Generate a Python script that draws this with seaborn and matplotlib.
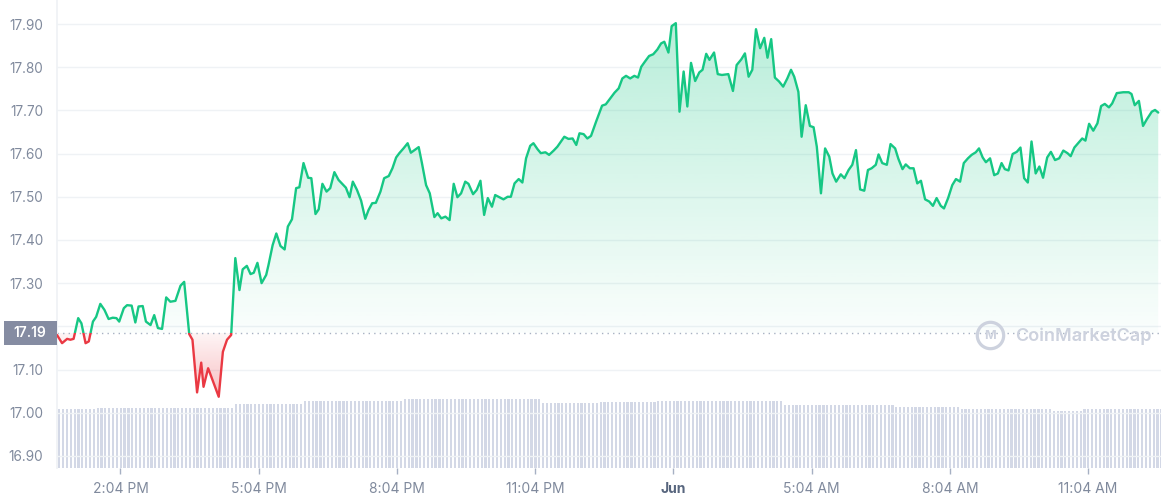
import numpy as np
import pandas as pd
import matplotlib
matplotlib.use('Agg')
import matplotlib.pyplot as plt
import matplotlib.transforms as mtransforms
from matplotlib.colors import to_rgb
from matplotlib.patches import Rectangle
from matplotlib.path import Path
import seaborn as sns

# ---------------------------------
# Data (hours after 12:00 PM, price in USD)
# ---------------------------------
hours = [
    0.69, 0.80, 0.91, 0.98, 1.05, 1.15, 1.22, 1.31, 1.38, 1.47, 1.54, 1.63, 1.72, 1.81, 1.90, 1.98, 2.04,
    2.14, 2.21, 2.31, 2.39, 2.46, 2.55, 2.62, 2.72, 2.80, 2.88, 2.97, 3.06, 3.15, 3.26, 3.37, 3.45, 3.56,
    3.63, 3.73, 3.82, 3.87, 3.97, 4.20, 4.29, 4.38, 4.47, 4.56,
    4.65, 4.72, 4.81, 4.89, 4.96, 5.04, 5.13, 5.23, 5.28, 5.37, 5.45, 5.54, 5.63, 5.70, 5.79, 5.88, 5.95,
    6.04, 6.14, 6.21, 6.30, 6.37, 6.45, 6.54, 6.62, 6.71, 6.80, 6.88, 6.96, 7.04, 7.11, 7.20, 7.29, 7.38,
    7.45, 7.53, 7.61, 7.71, 7.79, 7.89, 7.97, 8.05,
    8.12, 8.21, 8.30, 8.37, 8.45, 8.54, 8.61, 8.70, 8.78, 8.88, 8.95, 9.03, 9.12, 9.21, 9.30, 9.38, 9.46,
    9.55, 9.62, 9.72, 9.80, 9.88, 9.96, 10.04, 10.13, 10.20, 10.29, 10.38, 10.47, 10.54, 10.62, 10.71,
    10.79, 10.87, 10.96, 11.03, 11.12, 11.19, 11.29, 11.37, 11.47, 11.55,
    11.70, 11.79, 11.88, 11.96, 12.03, 12.12, 12.20, 12.28, 12.39, 12.52, 12.60, 12.70, 12.79, 12.88,
    12.96, 13.04, 13.13, 13.22, 13.30, 13.37, 13.45, 13.54, 13.63, 13.72, 13.80, 13.87, 13.96, 14.03,
    14.12, 14.20, 14.29, 14.37, 14.45, 14.54, 14.63, 14.70, 14.78, 14.85, 14.95, 15.03, 15.12,
    15.26, 15.36, 15.44, 15.54, 15.62, 15.70, 15.78, 15.86, 15.95, 16.04, 16.11, 16.19, 16.27, 16.36,
    16.45, 16.54, 16.62, 16.69, 16.78, 16.85, 16.94, 17.03, 17.11, 17.18, 17.27, 17.36, 17.45, 17.52,
    17.60, 17.70, 17.78,
    17.87, 17.95, 18.03, 18.12, 18.21, 18.29, 18.37, 18.46, 18.52, 18.60, 18.70, 18.78, 18.88, 18.95,
    19.04, 19.11, 19.20, 19.28, 19.36, 19.44, 19.53, 19.62, 19.70, 19.78, 19.87, 19.94, 20.03, 20.12,
    20.20, 20.29, 20.37, 20.46, 20.54, 20.63, 20.70, 20.78, 20.85, 20.94, 21.03, 21.11, 21.19, 21.26, 21.34,
    21.43, 21.52, 21.60, 21.68, 21.76, 21.84, 21.93, 22.01, 22.09, 22.18, 22.26, 22.35, 22.44, 22.53,
    22.62, 22.69, 22.77, 22.85, 22.94, 23.01, 23.09, 23.18, 23.27, 23.35, 23.43, 23.52, 23.59, 23.69,
    23.83, 23.95, 24.01, 24.08, 24.17, 24.26, 24.34, 24.45, 24.52, 24.59,
]
price = [
    17.180, 17.161, 17.171, 17.169, 17.171, 17.219, 17.207, 17.161, 17.165, 17.211, 17.222, 17.252, 17.238, 17.217, 17.220, 17.219, 17.211,
    17.242, 17.249, 17.248, 17.209, 17.246, 17.247, 17.211, 17.203, 17.226, 17.196, 17.194, 17.267, 17.257, 17.259, 17.294, 17.303, 17.182,
    17.169, 17.047, 17.116, 17.060, 17.103, 17.037, 17.141, 17.169, 17.180, 17.358,
    17.284, 17.332, 17.340, 17.321, 17.324, 17.347, 17.300, 17.319, 17.342, 17.388, 17.415, 17.386, 17.378, 17.431, 17.448, 17.520, 17.522,
    17.578, 17.544, 17.543, 17.460, 17.471, 17.530, 17.512, 17.520, 17.557, 17.539, 17.530, 17.521, 17.499, 17.535, 17.516, 17.491, 17.449,
    17.469, 17.485, 17.486, 17.512, 17.543, 17.548, 17.566, 17.591,
    17.601, 17.612, 17.624, 17.602, 17.608, 17.615, 17.578, 17.527, 17.508, 17.453, 17.462, 17.450, 17.454, 17.446, 17.530, 17.499, 17.508,
    17.535, 17.530, 17.506, 17.516, 17.537, 17.458, 17.497, 17.477, 17.504, 17.499, 17.494, 17.500, 17.500, 17.531, 17.541,
    17.533, 17.589, 17.618, 17.624, 17.610, 17.601, 17.603, 17.597, 17.607, 17.616,
    17.639, 17.634, 17.635, 17.620, 17.647, 17.645, 17.635, 17.641, 17.674, 17.711, 17.714, 17.728, 17.741, 17.751,
    17.774, 17.780, 17.774, 17.780, 17.776, 17.801, 17.813, 17.826, 17.830, 17.841, 17.855, 17.859, 17.834, 17.895,
    17.902, 17.697, 17.790, 17.709, 17.810, 17.768, 17.788, 17.794, 17.831, 17.817, 17.834, 17.784, 17.782,
    17.784, 17.745, 17.805, 17.818, 17.832, 17.778, 17.794, 17.888, 17.844, 17.868, 17.822, 17.865, 17.776, 17.767,
    17.755, 17.774, 17.794, 17.778, 17.743, 17.639, 17.712, 17.664, 17.661, 17.616, 17.508, 17.612, 17.593, 17.554,
    17.535, 17.552, 17.543,
    17.562, 17.574, 17.608, 17.517, 17.514, 17.562, 17.566, 17.574, 17.598, 17.578, 17.574, 17.622, 17.612, 17.588,
    17.564, 17.575, 17.566, 17.566, 17.531, 17.537, 17.494, 17.489, 17.479, 17.497, 17.479, 17.473, 17.497, 17.527,
    17.541, 17.535, 17.578, 17.589, 17.597, 17.603, 17.612, 17.591, 17.580, 17.589, 17.550, 17.554, 17.578, 17.564, 17.561,
    17.599, 17.604, 17.614, 17.543, 17.533, 17.628, 17.554, 17.570, 17.544, 17.591, 17.604, 17.585, 17.589, 17.607,
    17.601, 17.594, 17.614, 17.624, 17.635, 17.630, 17.669, 17.653, 17.670, 17.710, 17.715, 17.707, 17.716, 17.740,
    17.742, 17.742, 17.738, 17.712, 17.722, 17.664, 17.679, 17.697, 17.701, 17.695,
]

ref_price = 17.185
ref_label = '17.19'

# 5-minute volume bars (run lengths of equal height)
vol_levels = [59, 60, 64, 67, 69, 65, 66, 67, 63, 61, 59, 57, 59]
vol_counts = [10, 36, 18, 26, 36, 15, 15, 33, 29, 17, 24, 8, 21]

tick_hours = [2.067, 5.067, 8.067, 11.067, 14.067, 17.067, 20.067, 23.067]
tick_labels = ['2:04 PM', '5:04 PM', '8:04 PM', '11:04 PM', 'Jun', '5:04 AM', '8:04 AM', '11:04 AM']
y_ticks = [16.9, 17.0, 17.1, 17.2, 17.3, 17.4, 17.5, 17.6, 17.7, 17.8, 17.9]

GREEN = '#16c784'
RED = '#ea3943'
GREY = '#808a9d'

sns.set_theme(style='white')
plt.rcParams['font.family'] = ['Inter', 'DejaVu Sans']

fig = plt.figure(figsize=(11.61, 5.0), dpi=100)
ax = fig.add_axes([57 / 1161, 32 / 500, 1104 / 1161, 468 / 500])
ax_vol = ax.twinx()
ax_vol.set_zorder(ax.get_zorder() - 1)
ax.patch.set_visible(False)

# volume bars
bar_hours = 0.74 + np.arange(sum(vol_counts)) / 12
volume = np.repeat(vol_levels, vol_counts)
ax_vol.bar(bar_hours, volume, width=0.048, color='#d3d8e6', linewidth=0)
ax_vol.set_ylim(0, 468)
ax_vol.axis('off')

# price line, green above the open price, red below
df = pd.DataFrame({'hour': hours, 'price': price})
sns.lineplot(data=df, x='hour', y='price', ax=ax, color=GREEN, lw=1.7,
             estimator=None, sort=False, zorder=4)
green_line = ax.lines[-1]
sns.lineplot(data=df, x='hour', y='price', ax=ax, color=RED, lw=1.7,
             estimator=None, sort=False, zorder=4)
red_line = ax.lines[-1]
green_line.set_clip_path(Rectangle((-5, ref_price), 40, 5, transform=ax.transData))
red_line.set_clip_path(Rectangle((-5, ref_price - 5), 40, 5, transform=ax.transData))

# gradient fills
h = np.array(hours)
p = np.array(price)
up = ax.fill_between(h, p, ref_price, where=p >= ref_price, interpolate=True,
                     facecolor='none', edgecolor='none')
down = ax.fill_between(h, p, ref_price, where=p <= ref_price, interpolate=True,
                       facecolor='none', edgecolor='none')

g_grad = np.zeros((256, 1, 4))
g_grad[..., :3] = to_rgb(GREEN)
g_grad[:, 0, 3] = np.linspace(0.02, 0.31, 256)
g_img = ax.imshow(g_grad, extent=[h[0], h[-1], ref_price, 17.92], origin='lower',
                  aspect='auto', zorder=1)
g_img.set_clip_path(Path.make_compound_path(*up.get_paths()), ax.transData)

r_grad = np.zeros((256, 1, 4))
r_grad[..., :3] = to_rgb(RED)
r_grad[:, 0, 3] = np.linspace(0.34, 0.05, 256)
r_img = ax.imshow(r_grad, extent=[h[0], h[-1], 17.03, ref_price], origin='lower',
                  aspect='auto', zorder=1)
r_img.set_clip_path(Path.make_compound_path(*down.get_paths()), ax.transData)

ax.axhline(ref_price, color='#a7b1c2', lw=1, ls=(0, (1, 3)), zorder=2)

ax.set_xlim(0.69, 24.65)
ax.set_ylim(16.872, 17.9556)
ax_vol.set_xlim(0.69, 24.65)

# axes styling
ax.set_yticks(y_ticks)
ax.set_yticklabels(['' if abs(v - 17.2) < 1e-6 else f'{v:.2f}' for v in y_ticks])
ax.yaxis.tick_left()
ax.set_xticks(tick_hours)
ax.set_xticklabels(tick_labels)
ax.set_xlabel('')
ax.set_ylabel('')
ax.grid(axis='y', color='#eff2f5', lw=1)
ax.grid(axis='x', visible=False)
ax.set_axisbelow(True)
ax.tick_params(axis='y', left=False, right=False, length=0, pad=10, labelsize=9.8, labelcolor=GREY)
ax.tick_params(axis='x', bottom=True, length=4, width=1, color='#a6b0c3', pad=6,
               labelsize=10, labelcolor=GREY, direction='out')
for side, s in ax.spines.items():
    s.set_visible(side == 'left')
ax.spines['left'].set_color('#eff2f5')

jun = ax.get_xticklabels()[4]
jun.set_fontweight('bold')
jun.set_color('#58667e')

# open-price tag on the y axis
trans = mtransforms.blended_transform_factory(ax.transAxes, ax.transData)
ax.add_patch(Rectangle((-0.048, ref_price - 0.028), 0.048, 0.056, transform=trans,
                       facecolor='#858ca2', edgecolor='none', clip_on=False, zorder=5))
ax.text(-0.0245, ref_price, ref_label, transform=trans, ha='center', va='center',
        color='white', fontsize=10, fontweight='semibold', zorder=6, clip_on=False)

# watermark
ax.plot([0.845], [0.285], marker='o', ms=19, mfc='none', mec='#cdd2de', mew=2.3,
        transform=ax.transAxes, zorder=3)
ax.text(0.845, 0.283, 'M', transform=ax.transAxes, ha='center', va='center',
        fontsize=9, fontweight='bold', color='#cdd2de', zorder=3)
ax.text(0.868, 0.281, 'CoinMarketCap', transform=ax.transAxes, ha='left', va='center',
        fontsize=13, fontweight='semibold', color='#cdd2de', zorder=3)

fig.savefig('out.png', dpi=100)
